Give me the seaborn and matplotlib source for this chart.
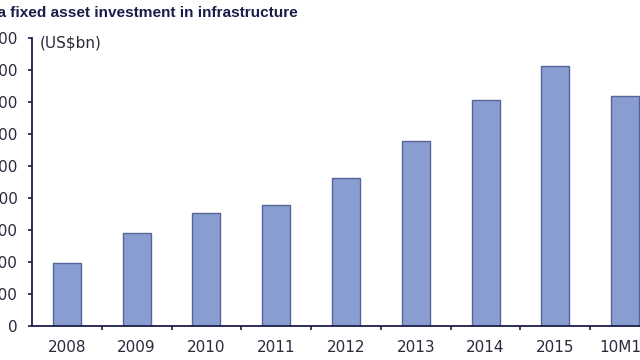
import matplotlib
matplotlib.use("Agg")
import matplotlib.pyplot as plt
import seaborn as sns
import pandas as pd
from matplotlib.ticker import FixedLocator

categories = ["2008", "2009", "2010", "2011", "2012", "2013", "2014", "2015", "10M16"]
values = [396, 583, 708, 754, 923, 1154, 1411, 1627, 1438]
yticks = [0, 200, 400, 600, 800, 1000, 1200, 1400, 1600, 1800]
ytick_labels = ["0", "200", "400", "600", "800", "1,000", "1,200", "1,400", "1,600", "1,800"]
title = "China fixed asset investment in infrastructure"
unit = "(US$bn)"

sns.set_style("white")
plt.rcParams['font.family'] = ['DejaVu Sans']

navy = "#1c1c4a"
text_col = "#2a2a3a"
bar_fill = "#8a9dd0"
bar_edge = "#55659a"

df = pd.DataFrame({"cat": categories, "val": values})

fig = plt.figure(figsize=(6.4, 3.6), dpi=100)
ax = fig.add_axes([32 / 640, 34 / 360, 628 / 640, 288 / 360])
sns.barplot(data=df, x="cat", y="val", color=bar_fill, edgecolor=bar_edge,
            linewidth=1.0, width=0.4, saturation=1, ax=ax)

ax.set_xlim(-0.5, len(categories) - 0.5)
ax.set_ylim(0, 1800)
ax.set_yticks(yticks)
ax.set_yticklabels(ytick_labels)
ax.set_xlabel("")
ax.set_ylabel("")

for s in ["top", "right"]:
    ax.spines[s].set_visible(False)
for s in ["left", "bottom"]:
    ax.spines[s].set_color(navy)
    ax.spines[s].set_linewidth(1.3)

ax.tick_params(axis="y", direction="out", length=3, width=1.2, color=navy,
               labelsize=11, labelcolor=text_col, pad=7.5, left=True)
ax.tick_params(axis="x", which="major", length=0, labelsize=11,
               labelcolor=text_col, pad=10, bottom=True)
ax.xaxis.set_minor_locator(FixedLocator([i + 0.5 for i in range(len(categories))]))
ax.tick_params(axis="x", which="minor", direction="out", length=3, width=1.2,
               color=navy, bottom=True)

fig.text(298 / 640, 1 - 17 / 360, title, ha="right", va="baseline",
         fontsize=11.1, fontweight="bold", color=navy, family="Liberation Sans")
fig.text(40 / 640, 1 - 47 / 360, unit, ha="left", va="baseline",
         fontsize=11, color=text_col)

fig.savefig("out.png", dpi=100)
